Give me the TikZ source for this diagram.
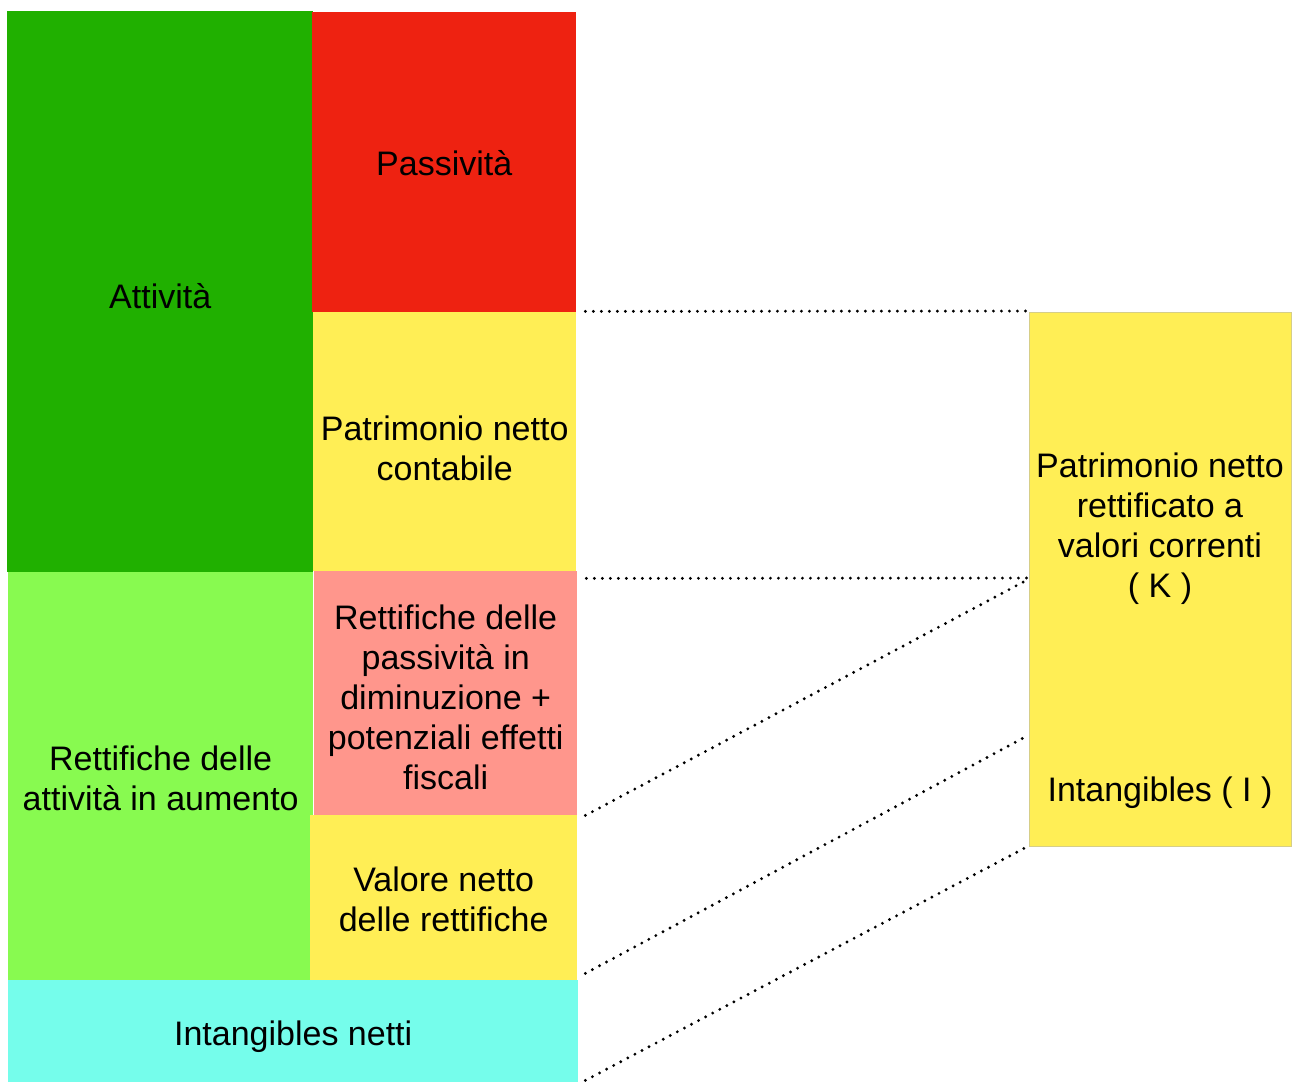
\documentclass[tikz,border=0pt]{standalone}
\usepackage{fontspec}
\setmainfont{Liberation Sans}
\usetikzlibrary{calc}

\definecolor{attgreen}{HTML}{20B000}
\definecolor{pasred}{HTML}{EE2211}
\definecolor{pnyellow}{HTML}{FFEE55}
\definecolor{retgreen}{HTML}{88FA50}
\definecolor{retpink}{HTML}{FF968C}
\definecolor{intcyan}{HTML}{75FDEB}
\definecolor{rkborder}{HTML}{D6CE88}

\tikzset{
    block/.style={rectangle, draw=none, inner sep=0pt, anchor=north west},
    blocktext/.style={inner sep=0pt, align=center, font=\fontsize{34}{40}\selectfont},
    dots/.style={line width=3.2pt, line cap=round, dash pattern=on 0pt off 8pt}
}

\begin{document}
\begin{tikzpicture}[x=1pt,y=-1pt]
    \useasboundingbox (0,0) rectangle (1294,1082);

    % Left column
    \node[block, fill=attgreen, minimum width=306, minimum height=561] (att) at (7,11) {};
    \node[block, fill=retgreen, minimum width=305, minimum height=408] (reta) at (8,572) {};

    % Middle column
    \node[block, fill=pasred, minimum width=264, minimum height=300] (pas) at (312,12) {};
    \node[block, fill=pnyellow, minimum width=263, minimum height=259] (pnc) at (313,312) {};
    \node[block, fill=retpink, minimum width=263, minimum height=244] (retp) at (314,571) {};
    \node[block, fill=pnyellow, minimum width=267, minimum height=165] (vnr) at (310,815) {};

    % Bottom row
    \node[block, fill=intcyan, minimum width=570, minimum height=102] (intn) at (8,980) {};

    % Right box
    \node[block, fill=pnyellow, draw=rkborder, line width=0.8pt, minimum width=262, minimum height=534] (rk) at (1029,312) {};
    \coordinate (rkmid) at ($(rk.north west)+(0,424)$);

    % Labels
    \node[blocktext] (attt) at ($(att.center)+(0,4)$) {Attività};
    \node[blocktext] (retat) at ($(reta.center)+(0,2)$) {Rettifiche delle\\attività in aumento};
    \node[blocktext] (past) at ($(pas.center)+(0,1)$) {Passività};
    \node[blocktext] (pnct) at ($(pnc.center)+(0,7)$) {Patrimonio netto\\contabile};
    \node[blocktext] (retpt) at ($(retp.center)+(0,4)$) {Rettifiche delle\\passività in\\diminuzione +\\potenziali effetti\\fiscali};
    \node[blocktext] (vnrt) at ($(vnr.center)+(0,2)$) {Valore netto\\delle rettifiche};
    \node[blocktext] (intnt) at ($(intn.center)+(0,5)$) {Intangibles netti};
    \node[blocktext] (pnr) at (1160,529) {Patrimonio netto\\rettificato a\\valori correnti\\( K )};
    \node[blocktext] (intg) at (1160,793) {Intangibles ( I )};

    % Dotted links
    \draw[dots] ($(pas.south east)+(9,-1)$) -- ($(rk.north west)+(-2,-1)$);
    \draw[dots] ($(pnc.south east)+(10,7)$) -- ($(rk.north west)+(-2,266)$);
    \draw[dots] ($(retp.south east)+(8,0)$) -- ($(rk.north west)+(-2,268)$);
    \draw[dots] ($(vnr.south east)+(8,-7)$) -- ($(rkmid)+(-2,0)$);
    \draw[dots] ($(intn.south east)+(7,-2)$) -- ($(rk.south west)+(-2,0)$);
\end{tikzpicture}
\end{document}
